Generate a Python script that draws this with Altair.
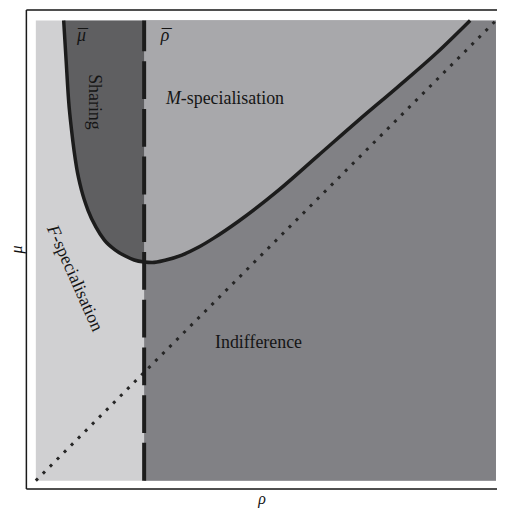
import altair as alt
import pandas as pd

# ---- data (unit square = shaded region) ----
rho_curve = [0.0605, 0.0659, 0.0713, 0.0778, 0.0886, 0.0994, 0.1134, 0.1307,
             0.1490, 0.1728, 0.1944, 0.2138, 0.2354, 0.2527, 0.2829, 0.3175,
             0.3542, 0.3866, 0.4406, 0.5270, 0.6134, 0.6998, 0.7862, 0.8726,
             0.9438]
mu_curve = [1.0000, 0.9114, 0.8251, 0.7603, 0.6803, 0.6307, 0.5875, 0.5508,
            0.5227, 0.5011, 0.4881, 0.4795, 0.4752, 0.4741, 0.4795, 0.4903,
            0.5076, 0.5270, 0.5637, 0.6307, 0.7063, 0.7819, 0.8553, 0.9309,
            1.0000]
rho_bar = 0.2354
region_lo = 0.0
region_hi = 1.0
diag_rho = [0.0, 1.0]
diag_mu = [0.0, 1.0]

# ---- style ----
C_F = "#d0d0d2"
C_SHARE = "#5f5f61"
C_M = "#a8a8ab"
C_IND = "#818185"
C_LINE = "#1c1c1c"
FONT = "Liberation Serif"

xs = alt.Scale(domain=[-0.0216, 1.0022], nice=False, zero=False)
ys = alt.Scale(domain=[-0.0173, 1.0238], nice=False, zero=False)

def ax(title=None, orient="bottom", pad=2):
    return alt.Axis(orient=orient, domain=True, domainColor="#1a1a1a", domainWidth=1.5,
                    ticks=False, labels=False, grid=False,
                    title=title if title is not None else "",
                    titleFont=FONT, titleFontSize=16, titleFontStyle="italic",
                    titleFontWeight="normal", titleColor="#111", titlePadding=pad)

curve = pd.DataFrame({"rho": rho_curve, "mu": mu_curve})
curve["top"] = region_hi

full = pd.DataFrame({"x": [region_lo], "x2": [region_hi], "y": [region_lo], "y2": [region_hi]})
ind = pd.DataFrame({"x": [rho_bar], "x2": [region_hi], "y": [region_lo], "y2": [region_hi]})

bg = alt.Chart(full).mark_rect(color=C_F).encode(
    x=alt.X("x:Q", scale=xs, axis=ax("ρ", "bottom", 2)),
    x2="x2:Q",
    y=alt.Y("y:Q", scale=ys, axis=ax("μ", "left", 1)),
    y2="y2:Q",
)
topaxis = alt.Chart(full).mark_rect(color=C_F, opacity=0).encode(
    x=alt.X("x:Q", scale=xs, axis=ax(None, "top")),
    x2="x2:Q",
    y=alt.Y("y:Q", scale=ys, axis=None),
    y2="y2:Q",
)
ind_rect = alt.Chart(ind).mark_rect(color=C_IND).encode(
    x=alt.X("x:Q", scale=xs, axis=None), x2="x2:Q",
    y=alt.Y("y:Q", scale=ys, axis=None), y2="y2:Q",
)

share_df = curve[curve["rho"] <= rho_bar + 1e-9]
m_df = curve[curve["rho"] >= rho_bar - 1e-9]

share_area = alt.Chart(share_df).mark_area(color=C_SHARE, interpolate="monotone").encode(
    x=alt.X("rho:Q", scale=xs, axis=None),
    y=alt.Y("mu:Q", scale=ys, axis=None),
    y2="top:Q",
)
m_area = alt.Chart(m_df).mark_area(color=C_M, interpolate="monotone").encode(
    x=alt.X("rho:Q", scale=xs, axis=None),
    y=alt.Y("mu:Q", scale=ys, axis=None),
    y2="top:Q",
)

diag = alt.Chart(pd.DataFrame({"rho": diag_rho, "mu": diag_mu})).mark_line(
    color="#262626", strokeWidth=3, strokeDash=[3, 7]
).encode(
    x=alt.X("rho:Q", scale=xs, axis=None),
    y=alt.Y("mu:Q", scale=ys, axis=None),
)

vline = alt.Chart(pd.DataFrame({"rho": [rho_bar, rho_bar], "mu": [region_lo, region_hi], "o": [0, 1]})).mark_line(
    color=C_LINE, strokeWidth=4, strokeDash=[38, 10]
).encode(
    x=alt.X("rho:Q", scale=xs, axis=None),
    y=alt.Y("mu:Q", scale=ys, axis=None),
    order="o:Q",
)

curve_line = alt.Chart(curve).mark_line(
    color=C_LINE, strokeWidth=3.5, interpolate="monotone"
).encode(
    x=alt.X("rho:Q", scale=xs, axis=None),
    y=alt.Y("mu:Q", scale=ys, axis=None),
)

label_text = ["Sharing", "M", "-specialisation", "F", "-specialisation",
              "Indifference", "μ", "¯", "ρ", "¯"]
label_layout = [
    dict(x=0.127, y=0.823, angle=90, style="normal", align="center", baseline="middle", dx=0, dy=0, fs=18),
    dict(x=0.315, y=0.819, angle=0, style="italic", align="right", baseline="alphabetic", dx=0, dy=0, fs=18),
    dict(x=0.315, y=0.819, angle=0, style="normal", align="left", baseline="alphabetic", dx=0, dy=0, fs=18),
    dict(x=0.043, y=0.531, angle=66, style="italic", align="right", baseline="middle", dx=0, dy=0, fs=18),
    dict(x=0.043, y=0.531, angle=66, style="normal", align="left", baseline="middle", dx=0, dy=0, fs=18),
    dict(x=0.484, y=0.289, angle=0, style="normal", align="center", baseline="alphabetic", dx=0, dy=0, fs=18),
    dict(x=0.099, y=0.9547, angle=0, style="italic", align="center", baseline="alphabetic", dx=0, dy=0, fs=18),
    dict(x=0.099, y=0.9547, angle=0, style="normal", align="center", baseline="alphabetic", dx=1.5, dy=1, fs=20),
    dict(x=0.281, y=0.9557, angle=0, style="italic", align="center", baseline="alphabetic", dx=0, dy=0, fs=18),
    dict(x=0.281, y=0.9557, angle=0, style="normal", align="center", baseline="alphabetic", dx=1.5, dy=1, fs=20),
]

texts = []
for t, L in zip(label_text, label_layout):
    texts.append(
        alt.Chart(pd.DataFrame({"x": [L["x"]], "y": [L["y"]]})).mark_text(
            text=t, font=FONT, fontSize=L["fs"], fontStyle=L["style"], color="#151515",
            angle=L["angle"], align=L["align"], baseline=L["baseline"],
            dx=L["dx"], dy=L["dy"],
        ).encode(
            x=alt.X("x:Q", scale=xs, axis=None),
            y=alt.Y("y:Q", scale=ys, axis=None),
        )
    )

chart = alt.layer(
    bg, topaxis, ind_rect, share_area, m_area, diag, vline, curve_line, *texts
).resolve_axis(x="independent", y="independent").properties(
    width=474, height=482,
    padding={"left": 18, "top": 0, "right": 0, "bottom": 20},
    autosize="none",
).configure_view(stroke=None).configure(background="white")

chart.save("out.html", embed_options={"renderer": "svg", "actions": False})
